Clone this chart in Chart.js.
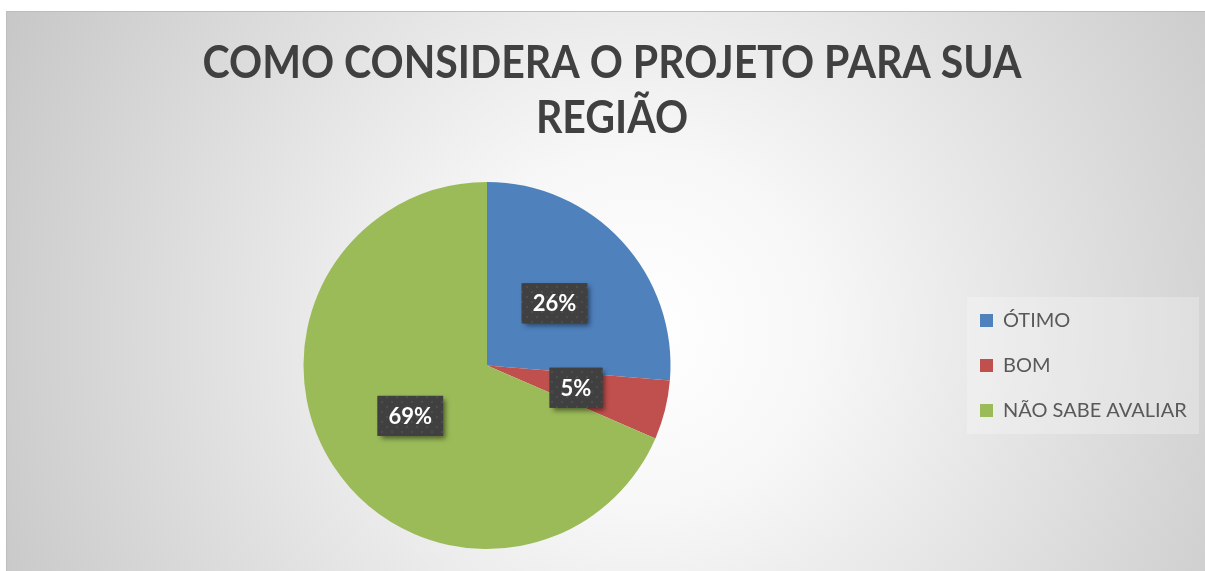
<!DOCTYPE html>
<html><head><meta charset="utf-8">
<script src="https://cdn.jsdelivr.net/npm/chart.js@4.4.0/dist/chart.umd.min.js"></script>
<style>html,body{margin:0;padding:0;background:#fff;overflow:hidden}canvas{display:block}</style>
</head><body>
<canvas id="c" width="1205" height="571"></canvas>
<script>
const titleLines = ['COMO CONSIDERA O PROJETO PARA SUA', 'REGIÃO'];
const categories = ['ÓTIMO', 'BOM', 'NÃO SABE AVALIAR'];
const shares = [26.3, 5.2, 68.5];
const colors = ['#4F81BD', '#C0504D', '#9BBB59'];

const FONT = 'Lato, "Open Sans", sans-serif';
const legendFont = {family: FONT, size: 20};
const legendPad = 25, legendBox = 13;
const m = document.createElement('canvas').getContext('2d');
m.font = legendFont.size + 'px ' + FONT;
const maxText = Math.max(...categories.map(t => m.measureText(t).width));
const legendW = legendPad + legendBox + legendFont.size / 2 + maxText + 10;
const legendLeft = 980 - legendPad;
const padLeft = 2 * 487 - legendLeft;
const padRight = Math.max(0, 1205 - legendLeft - legendW);

const backdrop = {
  id: 'backdrop',
  beforeDraw(chart) {
    const c = chart.ctx, W = chart.width, H = chart.height;
    c.save();
    c.fillStyle = '#fff';
    c.fillRect(0, 0, W, H);
    const g = c.createRadialGradient(640, 330, 0, 640, 330, 720);
    g.addColorStop(0, '#ffffff');
    g.addColorStop(0.25, '#f7f7f7');
    g.addColorStop(1, '#c6c6c6');
    c.fillStyle = g;
    c.fillRect(6, 11, W - 6, H - 11);
    c.strokeStyle = '#bdbdbd';
    c.lineWidth = 1;
    c.beginPath();
    c.moveTo(6.5, H); c.lineTo(6.5, 11.5); c.lineTo(W, 11.5);
    c.stroke();
    // legend backdrop
    c.fillStyle = 'rgba(255,255,255,0.25)';
    c.fillRect(967, 297, 232, 137);
    // title
    c.fillStyle = '#404040';
    c.font = 'bold 45px ' + FONT;
    c.textBaseline = 'middle';
    c.textAlign = 'center';
    const sx = 819 / c.measureText(titleLines[0]).width;
    c.translate(612, 0);
    c.scale(sx, 1);
    titleLines.forEach((t, i) => c.fillText(t, 0, 63 + i * 55));
    c.restore();
  }
};

const dotPattern = (() => {
  const p = document.createElement('canvas');
  p.width = 10; p.height = 10;
  const pc = p.getContext('2d');
  pc.fillStyle = '#404040';
  pc.fillRect(0, 0, 10, 10);
  pc.fillStyle = '#4d4d4d';
  pc.fillRect(1, 1, 2, 2);
  pc.fillRect(6, 6, 2, 2);
  return p;
})();

const sliceLabels = {
  id: 'sliceLabels',
  afterDatasetsDraw(chart) {
    const c = chart.ctx;
    const meta = chart.getDatasetMeta(0);
    c.save();
    c.font = 'bold 22px ' + FONT;
    c.textAlign = 'center';
    c.textBaseline = 'middle';
    meta.data.forEach((arc, i) => {
      const p = arc.tooltipPosition();
      const txt = Math.round(shares[i]) + '%';
      const w = c.measureText(txt).width + 22, h = 40;
      c.save();
      c.shadowColor = 'rgba(0,0,0,0.5)';
      c.shadowBlur = 5;
      c.shadowOffsetX = 3;
      c.shadowOffsetY = 3;
      c.fillStyle = '#404040';
      c.fillRect(p.x - w / 2, p.y - h / 2, w, h);
      c.restore();
      c.fillStyle = c.createPattern(dotPattern, 'repeat');
      c.fillRect(p.x - w / 2, p.y - h / 2, w, h);
      c.fillStyle = '#ffffff';
      c.fillText(txt, p.x, p.y + 1);
    });
    c.restore();
  }
};

new Chart(document.getElementById('c'), {
  type: 'pie',
  data: {
    labels: categories,
    datasets: [{data: shares, backgroundColor: colors, borderWidth: 0, hoverOffset: 0}]
  },
  options: {
    responsive: false,
    animation: false,
    events: [],
    layout: {padding: {top: 182, bottom: 22, left: padLeft, right: padRight}},
    plugins: {
      title: {display: false},
      tooltip: {enabled: false},
      legend: {
        position: 'right',
        labels: {boxWidth: legendBox, boxHeight: legendBox, padding: legendPad, color: '#595959', font: legendFont}
      }
    }
  },
  plugins: [backdrop, sliceLabels]
});
</script>
</body></html>
